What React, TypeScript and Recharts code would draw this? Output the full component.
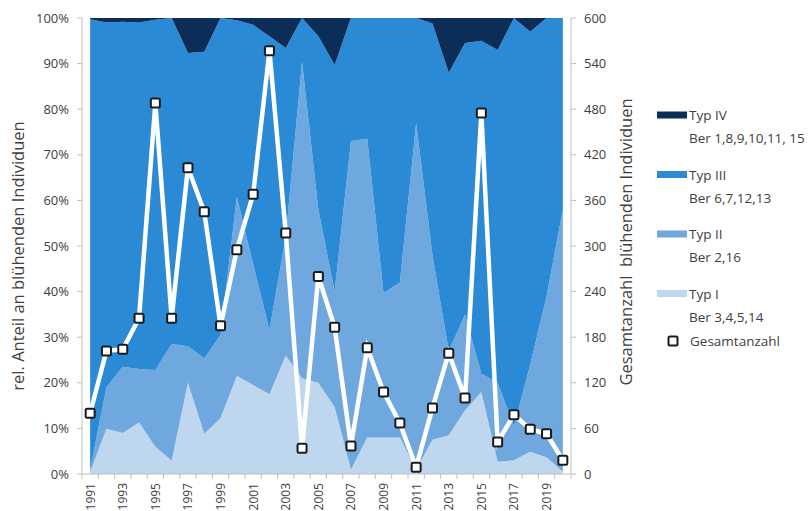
import { ComposedChart, Area, Line, XAxis, YAxis } from "recharts";

// Jahre (Kategorien)
const years = [
  1991, 1992, 1993, 1994, 1995, 1996, 1997, 1998, 1999, 2000,
  2001, 2002, 2003, 2004, 2005, 2006, 2007, 2008, 2009, 2010,
  2011, 2012, 2013, 2014, 2015, 2016, 2017, 2018, 2019, 2020,
];

// Anteile in %
const typI = [0.5, 9.9, 9, 11.3, 6, 2.9, 20, 8.8, 12.3, 21.5, 19.5, 17.5, 26, 21, 20, 14.7, 1, 8, 8, 8, 1, 7.5, 8.5, 14, 18, 2.7, 3, 4.9, 3.7, 0.5];
const typII = [0.5, 9.1, 14.5, 11.7, 16.8, 25.6, 8, 16.6, 18.2, 39.3, 26.5, 14.1, 26, 69.4, 38, 25.3, 72, 65.5, 31.7, 34, 76, 40.5, 18.5, 21, 4, 17.3, 7.4, 19.1, 35.3, 57.5];
const typIII = [98.7, 80, 75.7, 76, 76.8, 71.5, 64.3, 67.2, 69.5, 38.7, 52.5, 64.4, 41.4, 9.6, 38, 49.7, 27, 26.5, 60.3, 58, 23, 50.8, 61, 59.5, 73, 73, 89.6, 73, 61, 42];
const typIV = [0.3, 1, 0.8, 1, 0.4, 0, 7.7, 7.4, 0, 0.5, 1.5, 4, 6.6, 0, 4, 10.3, 0, 0, 0, 0, 0, 1.2, 12, 5.5, 5, 7, 0, 3, 0, 0];

// Gesamtanzahl blühender Individuen
const total = [80, 162, 164, 205, 488, 205, 403, 345, 195, 295, 368, 557, 317, 34, 260, 193, 37, 166, 108, 67, 9, 87, 159, 100, 475, 42, 78, 59, 53, 18];

const leftTicks = [0, 10, 20, 30, 40, 50, 60, 70, 80, 90, 100];
const rightTicks = [0, 60, 120, 180, 240, 300, 360, 420, 480, 540, 600];

const legendItems = [
  { key: "typIV", name: "Typ IV", sub: "Ber 1,8,9,10,11, 15", color: "#0b2d57" },
  { key: "typIII", name: "Typ III", sub: "Ber 6,7,12,13", color: "#2a8ad6" },
  { key: "typII", name: "Typ II", sub: "Ber 2,16", color: "#6fa8de" },
  { key: "typI", name: "Typ I", sub: "Ber 3,4,5,14", color: "#bed7ef" },
];

const colors: Record<string, string> = {
  typI: "#bed7ef",
  typII: "#6fa8de",
  typIII: "#2a8ad6",
  typIV: "#0b2d57",
};

const data = years.map((year, i) => ({
  year,
  typI: typI[i],
  typII: typII[i],
  typIII: typIII[i],
  typIV: typIV[i],
  total: total[i],
}));

const W = 809;
const H = 511;
const PLOT_LEFT = 82;
const PLOT_RIGHT = 571;
const HALF_STEP = (PLOT_RIGHT - PLOT_LEFT) / years.length / 2;
const AXIS_GRAY = "#bfbfbf";
const TEXT = "#404040";

function YearTick(props: any) {
  const { x, y, payload } = props;
  const v = payload.value as number;
  const ly = y + 9;
  return (
    <g>
      <line x1={x - HALF_STEP} y1={y} x2={x - HALF_STEP} y2={y + 5} stroke={AXIS_GRAY} />
      {v === years[years.length - 1] && (
        <line x1={x + HALF_STEP} y1={y} x2={x + HALF_STEP} y2={y + 5} stroke={AXIS_GRAY} />
      )}
      {v % 2 === 1 && (
        <text
          x={x}
          y={ly}
          transform={`rotate(-90 ${x} ${ly})`}
          textAnchor="end"
          dominantBaseline="central"
          fontSize={12}
          fill={TEXT}
        >
          {v}
        </text>
      )}
    </g>
  );
}

function SquareDot(props: any) {
  const { cx, cy } = props;
  if (cx == null || cy == null) return null;
  return (
    <rect x={cx - 4.5} y={cy - 4.5} width={9} height={9} rx={1.5} fill="#ffffff" stroke="#1a1a1a" strokeWidth={2} />
  );
}

export default function App() {
  return (
    <div
      style={{
        position: "absolute",
        left: 0,
        top: 0,
        width: W,
        height: H,
        overflow: "hidden",
        background: "#fff",
        fontFamily: "'Open Sans', sans-serif",
      }}
    >
      <ComposedChart
        width={W}
        height={H}
        data={data}
        margin={{ top: 18, bottom: 7, left: 22, right: 188 }}
      >
        <XAxis
          dataKey="year"
          type="number"
          domain={[years[0] - 0.5, years[years.length - 1] + 0.5]}
          ticks={years}
          interval={0}
          height={30}
          tickSize={0}
          tickMargin={0}
          tickLine={false}
          axisLine={{ stroke: AXIS_GRAY }}
          tick={<YearTick />}
        />
        <YAxis
          yAxisId="left"
          domain={[0, 100]}
          ticks={leftTicks}
          width={60}
          tickSize={5}
          tickMargin={8}
          tickFormatter={(v: number) => `${v}%`}
          tick={{ fontSize: 13, fill: TEXT }}
          axisLine={{ stroke: AXIS_GRAY }}
          tickLine={{ stroke: AXIS_GRAY }}
        />
        <YAxis
          yAxisId="right"
          orientation="right"
          domain={[0, 600]}
          ticks={rightTicks}
          width={50}
          tickSize={5}
          tickMargin={8}
          tick={{ fontSize: 13, fill: TEXT }}
          axisLine={{ stroke: AXIS_GRAY }}
          tickLine={{ stroke: AXIS_GRAY }}
        />
        {["typI", "typII", "typIII", "typIV"].map((k) => (
          <Area
            key={k}
            yAxisId="left"
            type="linear"
            dataKey={k}
            stackId="a"
            stroke="none"
            fill={colors[k]}
            fillOpacity={1}
            isAnimationActive={false}
          />
        ))}
        <Line
          yAxisId="right"
          type="linear"
          dataKey="total"
          stroke="#ffffff"
          strokeWidth={4.5}
          dot={<SquareDot />}
          activeDot={false}
          isAnimationActive={false}
        />
      </ComposedChart>

      <svg
        width={W}
        height={H}
        style={{ position: "absolute", left: 0, top: 0, pointerEvents: "none" }}
      >
        <text
          x={17}
          y={256}
          transform="rotate(-90 17 256)"
          textAnchor="middle"
          dominantBaseline="central"
          fontSize={16.5}
          fill={TEXT}
        >
          rel. Anteil an blühenden Individuen
        </text>
        <text
          x={625}
          y={242}
          transform="rotate(-90 625 242)"
          textAnchor="middle"
          dominantBaseline="central"
          fontSize={16.5}
          fill={TEXT}
          style={{ whiteSpace: "pre" }}
        >
          {"Gesamtanzahl  blühenden Individuen"}
        </text>
        {legendItems.map((item, i) => {
          const cy = 115 + i * 59.5;
          return (
            <g key={item.key}>
              <rect x={657} y={cy - 3.5} width={30} height={7} fill={item.color} />
              <text x={689} y={cy} dominantBaseline="central" fontSize={13.5} fill={TEXT}>
                {item.name}
              </text>
              <text x={689} y={cy + 23} dominantBaseline="central" fontSize={13.5} fill={TEXT}>
                {item.sub}
              </text>
            </g>
          );
        })}
        <rect x={668.5} y={336.5} width={9} height={9} rx={1.5} fill="#fff" stroke="#1a1a1a" strokeWidth={2} />
        <text x={690} y={341} dominantBaseline="central" fontSize={13.5} fill={TEXT}>
          Gesamtanzahl
        </text>
      </svg>
    </div>
  );
}
